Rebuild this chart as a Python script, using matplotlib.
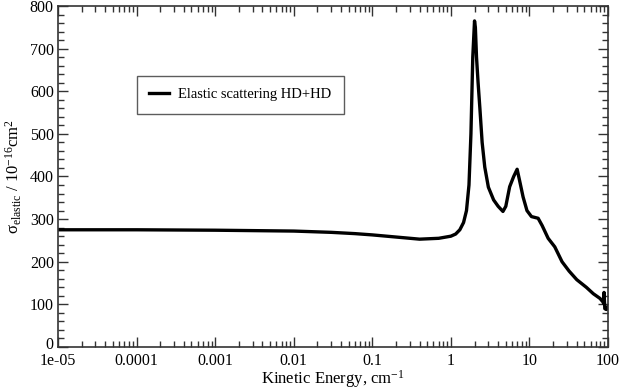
import matplotlib
matplotlib.use("Agg")
import matplotlib.pyplot as plt
import matplotlib.transforms as mtransforms
from matplotlib.ticker import MultipleLocator, LogLocator, NullFormatter

plt.rcParams['font.family'] = ['Liberation Serif', 'DejaVu Serif']
plt.rcParams['mathtext.fontset'] = 'custom'
plt.rcParams['mathtext.rm'] = 'Liberation Serif'
plt.rcParams['mathtext.it'] = 'Liberation Serif:italic'

energy = [1e-5, 3e-5, 1e-4, 1e-3, 0.01, 0.03, 0.06, 0.1, 0.2, 0.4, 0.7, 1.0, 1.15, 1.3,
          1.45, 1.58, 1.7, 1.8, 1.9, 2.0, 2.05, 2.12, 2.22, 2.34, 2.5, 2.7, 3.0, 3.5, 4.0,
          4.6, 5.0, 5.6, 6.3, 6.97, 7.5, 8.3, 9.3, 10.6, 12.9, 14.5, 17.3, 21, 26,
          32, 40, 53, 65, 79, 86, 88, 89, 91, 95, 100]
sigma = [275, 275, 275, 274, 272, 269, 266, 263, 258, 253, 255, 260, 265, 275,
         292, 320, 380, 500, 680, 765, 750, 680, 620, 560, 480, 422, 375, 345, 330,
         318, 330, 376, 400, 417, 390, 352, 320, 306, 302, 285, 255, 235, 200,
         178, 158, 140, 125, 114, 106, 102, 128, 90, 88, 95]

xticks = [1e-5, 1e-4, 1e-3, 1e-2, 0.1, 1, 10, 100]
xticklabels = ['1e-05', '0.0001', '0.001', '0.01', '0.1', '1', '10', '100']

fig = plt.figure(figsize=(6.21, 3.91), dpi=100)
ax = fig.add_axes([0.0934, 0.1125, 0.8857, 0.8722])
ax.plot(energy, sigma, color='black', lw=2.4, solid_joinstyle='round',
        label='Elastic scattering HD+HD')
ax.set_xscale('log')
ax.set_xlim(1e-5, 100)
ax.set_ylim(0, 800)
ax.set_xticks(xticks)
ax.set_xticklabels(xticklabels)
ax.xaxis.set_minor_locator(LogLocator(base=10, subs=range(2, 10), numticks=20))
ax.xaxis.set_minor_formatter(NullFormatter())
ax.yaxis.set_major_locator(MultipleLocator(100))
ax.yaxis.set_minor_locator(MultipleLocator(20))
ax.tick_params(which='both', direction='in', top=True, right=True, labelsize=11.5,
               color='#333333', width=1)
ax.tick_params(which='major', length=7)
ax.tick_params(axis='x', which='major', pad=4)
ax.tick_params(axis='y', which='major', pad=3)
ax.tick_params(which='minor', length=4)
for s in ax.spines.values():
    s.set_linewidth(1.2)
    s.set_color('#333333')
ax.set_xlabel('Kinetic Energy, cm$^{-1}$', fontsize=12, labelpad=0)
ax.set_ylabel('σ$_{\\rm elastic}$ / 10$^{-16}$cm$^{2}$', fontsize=12, labelpad=4)

# nudge the "0" label up slightly so it does not collide with "1e-05"
fig.canvas.draw()
for lbl in ax.get_yticklabels():
    if lbl.get_text() == '0':
        lbl.set_transform(lbl.get_transform() +
                          mtransforms.ScaledTranslation(0, 3 / 72, fig.dpi_scale_trans))

leg = ax.legend(loc='upper left', bbox_to_anchor=(0.143, 0.795), frameon=True,
                fancybox=False, fontsize=10.5, handlelength=1.4, borderpad=0.85,
                borderaxespad=0, handletextpad=0.6)
leg.get_frame().set_edgecolor('#333333')
leg.get_frame().set_linewidth(1.0)

fig.savefig('out.png', dpi=100)
